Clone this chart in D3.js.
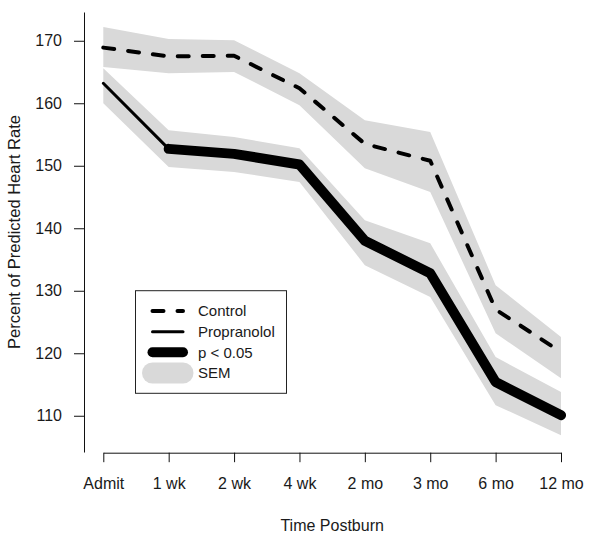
<!DOCTYPE html>
<html>
<head>
<meta charset="utf-8">
<script src="https://cdn.jsdelivr.net/npm/d3@7"></script>
<style>
  html, body { margin: 0; padding: 0; background: #fff; }
  svg { display: block; font-family: "Liberation Sans", Arial, sans-serif; }
</style>
</head>
<body>
<svg id="chart" width="601" height="540"></svg>
<script>
// ---- data ----
const categories = ["Admit", "1 wk", "2 wk", "4 wk", "2 mo", "3 mo", "6 mo", "12 mo"];
const controlMean = [168.9, 167.5, 167.6, 162.4, 153.5, 150.8, 127.0, 120.2];
const controlUpper = [172.2, 170.3, 170.1, 164.8, 157.3, 155.4, 130.9, 122.6];
const controlLower = [165.8, 164.8, 165.0, 159.7, 149.6, 145.8, 123.2, 116.0];
const propMean = [163.2, 152.7, 151.9, 150.2, 138.0, 132.8, 115.4, 110.1];
const propUpper = [165.6, 155.7, 154.6, 152.8, 141.3, 137.6, 119.4, 113.8];
const propLower = [160.0, 149.8, 149.0, 147.4, 134.1, 129.0, 111.7, 106.9];
const significant = [false, true, true, true, true, true, true, true]; // p < 0.05
const yTicks = [110, 120, 130, 140, 150, 160, 170];
const legendLabels = ["Control", "Propranolol", "p < 0.05", "SEM"];
const xTitle = "Time Postburn";
const yTitle = "Percent of Predicted Heart Rate";

// ---- layout ----
const svg = d3.select("#chart");
const bandColor = "#d9d9d9";

const x = d3.scalePoint().domain(categories).range([103.3, 561]);
const y = d3.scaleLinear().domain([104.2, 174.6]).range([452, 12]);

// bands
const area = d3.area()
  .x((d, i) => x(categories[i]))
  .y0(d => y(d[0]))
  .y1(d => y(d[1]));

svg.append("path")
  .datum(controlLower.map((v, i) => [v, controlUpper[i]]))
  .attr("d", area)
  .attr("fill", bandColor);

svg.append("path")
  .datum(propLower.map((v, i) => [v, propUpper[i]]))
  .attr("d", area)
  .attr("fill", bandColor);

const line = d3.line()
  .x(d => x(d.c))
  .y(d => y(d.v));

// control dashed
svg.append("path")
  .datum(categories.map((c, i) => ({ c, v: controlMean[i] })))
  .attr("d", line)
  .attr("fill", "none")
  .attr("stroke", "#000")
  .attr("stroke-width", 4)
  .attr("stroke-linecap", "round")
  .attr("stroke-linejoin", "round")
  .attr("stroke-dasharray", "11,14");

// propranolol: thin where not significant, thick where both ends significant
const propPts = categories.map((c, i) => ({ c, v: propMean[i] }));
// thin segments first
for (let i = 0; i < propPts.length - 1; i++) {
  const sig = significant[i] && significant[i + 1];
  if (sig) continue;
  svg.append("path")
    .datum([propPts[i], propPts[i + 1]])
    .attr("d", line)
    .attr("fill", "none")
    .attr("stroke", "#000")
    .attr("stroke-width", 3)
    .attr("stroke-linecap", "round");
}
// thick run
const thickPts = propPts.filter((d, i) => significant[i]);
svg.append("path")
  .datum(thickPts)
  .attr("d", line)
  .attr("fill", "none")
  .attr("stroke", "#000")
  .attr("stroke-width", 10)
  .attr("stroke-linecap", "round")
  .attr("stroke-linejoin", "round");

// ---- axes ----
const yAxis = d3.axisLeft(y).tickValues(yTicks).tickSize(10).tickSizeOuter(0).tickPadding(12);
const gy = svg.append("g").attr("transform", "translate(84,0)").call(yAxis);
gy.selectAll("text").attr("font-size", 16).attr("fill", "#1a1a1a").attr("font-family", "Liberation Sans, Arial, sans-serif");
gy.selectAll("path, line").attr("stroke", "#111");

const xAxis = d3.axisBottom(x).tickSize(9.5).tickSizeOuter(0).tickPadding(15);
const gx = svg.append("g").attr("transform", "translate(0,452.7)").call(xAxis);
gx.selectAll("text").attr("font-size", 16).attr("fill", "#1a1a1a").attr("font-family", "Liberation Sans, Arial, sans-serif");
gx.selectAll("path, line").attr("stroke", "#111");

svg.append("text")
  .attr("x", (x.range()[0] + x.range()[1]) / 2)
  .attr("y", 531)
  .attr("text-anchor", "middle")
  .attr("font-size", 16)
  .attr("fill", "#1a1a1a")
  .text(xTitle);

svg.append("text")
  .attr("transform", "translate(20,232) rotate(-90)")
  .attr("text-anchor", "middle")
  .attr("font-size", 16.5)
  .attr("fill", "#1a1a1a")
  .text(yTitle);

// ---- legend ----
const lg = svg.append("g");
lg.append("rect")
  .attr("x", 135.5).attr("y", 290.7)
  .attr("width", 151).attr("height", 102.6)
  .attr("fill", "#fff").attr("stroke", "#222").attr("stroke-width", 1);

const rowY = [311, 331.7, 352.3, 373];
const styles = [
  { w: 4, dash: "11,14", color: "#000" },
  { w: 3, dash: null, color: "#000" },
  { w: 10, dash: null, color: "#000" },
  { w: 21, dash: null, color: bandColor }
];
legendLabels.forEach((lab, i) => {
  const s = styles[i];
  const l = lg.append("line")
    .attr("x1", 152.5).attr("x2", 183)
    .attr("y1", rowY[i]).attr("y2", rowY[i])
    .attr("stroke", s.color)
    .attr("stroke-width", s.w)
    .attr("stroke-linecap", "round");
  if (s.dash) l.attr("stroke-dasharray", s.dash);
  lg.append("text")
    .attr("x", 198)
    .attr("y", rowY[i])
    .attr("dy", "0.36em")
    .attr("font-size", 15)
    .attr("fill", "#1a1a1a")
    .text(lab);
});
</script>
</body>
</html>
